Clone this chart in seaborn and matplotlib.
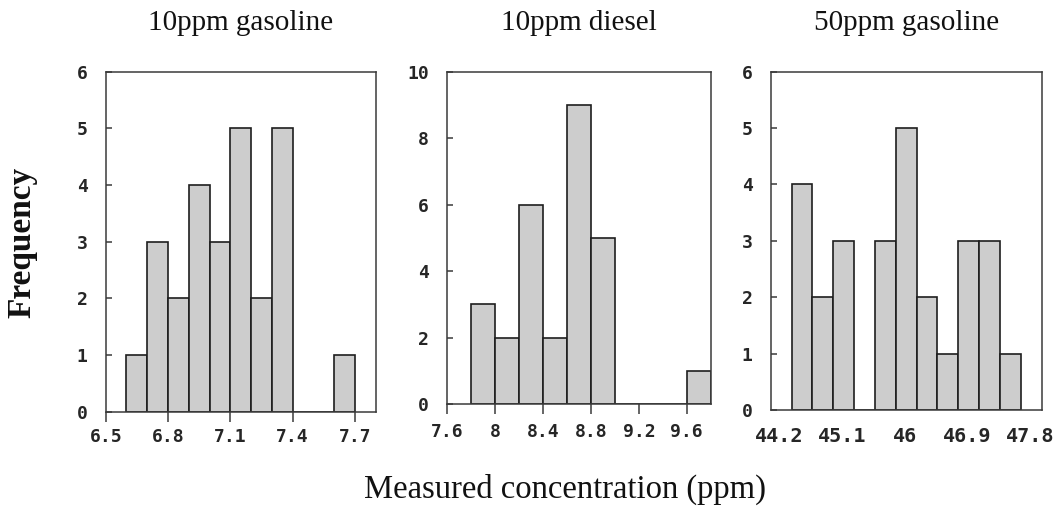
import matplotlib
matplotlib.use("Agg")
import matplotlib.pyplot as plt
import matplotlib.transforms as mtransforms
import numpy as np
import seaborn as sns

# ---- data -------------------------------------------------------------
titles = ["10ppm gasoline", "10ppm diesel", "50ppm gasoline"]

edges_g10 = [6.6, 6.7, 6.8, 6.9, 7.0, 7.1, 7.2, 7.3, 7.4, 7.5, 7.6, 7.7]
counts_g10 = [1, 3, 2, 4, 3, 5, 2, 5, 0, 0, 1]

edges_d10 = [7.8, 8.0, 8.2, 8.4, 8.6, 8.8, 9.0, 9.2, 9.4, 9.6, 9.8]
counts_d10 = [3, 2, 6, 2, 9, 5, 0, 0, 0, 1]

edges_g50 = [44.2, 44.5, 44.8, 45.1, 45.4, 45.7, 46.0, 46.3, 46.6, 46.9, 47.2, 47.5]
counts_g50 = [4, 2, 3, 0, 3, 5, 2, 1, 3, 3, 1]

xticks_g10 = [6.5, 6.8, 7.1, 7.4, 7.7]
xticks_d10 = [7.6, 8.0, 8.4, 8.8, 9.2, 9.6]
xticklabels_d10 = ["7.6", "8", "8.4", "8.8", "9.2", "9.6"]
xticks_g50 = [44.2, 45.1, 46.0, 46.9, 47.8]
xticklabels_g50 = ["44.2", "45.1", "46", "46.9", "47.8"]

yticks_g10 = [0, 1, 2, 3, 4, 5, 6]
yticks_d10 = [0, 2, 4, 6, 8, 10]
yticks_g50 = [0, 1, 2, 3, 4, 5, 6]

# ---- style ------------------------------------------------------------
sns.set_style("white")
plt.rcParams["font.family"] = ["Liberation Serif", "DejaVu Serif"]
plt.rcParams["axes.linewidth"] = 1.1

W, H = 1060, 508
fig = plt.figure(figsize=(W / 100, H / 100), dpi=100)

def px_axes(left, top, right, bottom):
    return fig.add_axes([left / W, 1 - bottom / H, (right - left) / W, (bottom - top) / H])

ax1 = px_axes(105.7, 71.7, 375.7, 411.7)
ax2 = px_axes(447.3, 71.7, 710.7, 404.0)
ax3 = px_axes(770.7, 71.7, 1041.7, 410.0)

bar_color = "#cdcdcd"
edge_color = "#1e1e1e"
spine_color = "#3a3a3a"
tick_font = dict(family=["DejaVu Sans Mono"], weight="bold")

panels = [
    (ax1, edges_g10, counts_g10, (6.5, 7.8), (0, 6), xticks_g10, [str(t) for t in xticks_g10], yticks_g10, 13.0, 7, 4.5),
    (ax2, edges_d10, counts_d10, (7.6, 9.8), (0, 10), xticks_d10, xticklabels_d10, yticks_d10, 13.0, 7, 6.5),
    (ax3, edges_g50, counts_g50, (43.9, 47.8), (0, 6), xticks_g50, xticklabels_g50, yticks_g50, 14.5, 0, 12.0),
]

for i, (ax, edges, counts, xlim, ylim, xt, xtl, yt, xfs, xlen, xpad) in enumerate(panels):
    centers = [(a + b) / 2 for a, b in zip(edges[:-1], edges[1:])]
    sns.histplot(x=centers, weights=counts, bins=edges, ax=ax, color=bar_color,
                 edgecolor=edge_color, linewidth=1.2, alpha=1.0)
    ax.set_xlim(*xlim)
    ax.set_ylim(*ylim)
    ax.set_xticks(xt)
    ax.set_xticklabels(xtl, fontsize=xfs, **tick_font)
    ax.set_yticks(yt)
    ax.set_yticklabels([str(v) for v in yt], fontsize=13, **tick_font)
    ax.tick_params(axis="x", direction="out", length=xlen, width=1.1, color=spine_color,
                   pad=xpad, bottom=True)
    ax.tick_params(axis="y", direction="in", length=4, width=1.1, color=spine_color,
                   pad=13, left=True)
    ax.set_xlabel("")
    ax.set_ylabel("")
    for s in ax.spines.values():
        s.set_visible(True)
        s.set_color(spine_color)
        s.set_linewidth(1.1)
    ax.set_title(titles[i], fontsize=21, pad=30, color="#111111")

# shift the third panel's labels slightly left as in the reference
offset = mtransforms.ScaledTranslation(-12 / 100, 0, fig.dpi_scale_trans)
for lab in ax3.get_xticklabels():
    lab.set_transform(lab.get_transform() + offset)

fig.text(565 / W, 1 - 498 / H, "Measured concentration (ppm)", ha="center",
         va="baseline", fontsize=23.5, color="#111111")
fig.text(22 / W, 1 - 242 / H, "Frequency", ha="center", va="center", rotation=90,
         fontsize=24, fontweight="bold", color="#111111")

fig.savefig("out.png", dpi=100)
